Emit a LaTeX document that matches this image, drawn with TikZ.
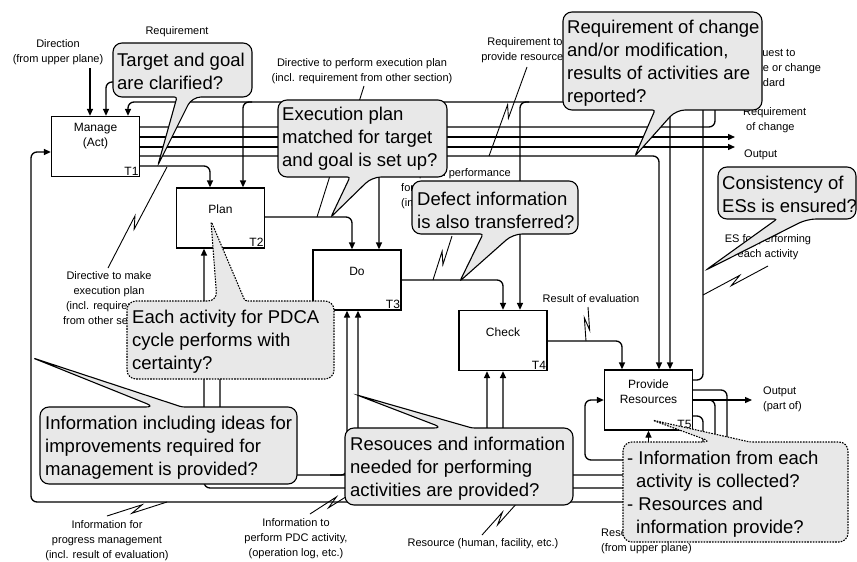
\documentclass[tikz,border=0pt]{standalone}
\usepackage{fontspec}
\setmainfont{Liberation Sans}
\usetikzlibrary{arrows.meta,calc}
\definecolor{cfill}{RGB}{232,232,232}
\tikzset{
  conn/.style={line width=1.3pt, rounded corners=6pt},
  arr/.style={conn, -{Triangle[length=7pt,width=6pt]}},
  actbox/.style={draw, line width=1.3pt, fill=white, minimum width=88pt, minimum height=60pt, inner sep=0pt},
  boxtxt/.style={font=\fontsize{12}{15}\selectfont, align=center, inner sep=0pt},
  tag/.style={font=\fontsize{12}{14}\selectfont, inner sep=1.5pt, anchor=south east},
  lbl/.style={font=\fontsize{11}{15}\selectfont, align=center, inner sep=0pt},
  lblw/.style={lbl, align=left, anchor=west},
  ldr/.style={line width=0.9pt},
  callout/.style={draw, fill=cfill, line width=1.1pt, rounded corners=9pt},
  dcallout/.style={callout, dash pattern=on 1.6pt off 1.2pt},
  ctxt/.style={font=\fontsize{18.5}{23}\selectfont, align=left, anchor=west, inner sep=0pt},
}
% leader line with a lightning mark: from #1 to #2, mark placed at fraction #3
\newcommand\squig[3]{%
  \draw[ldr] (#1) -- ($(#1)!#3!(#2)!6pt!(#2)!3pt!90:(#2)$)
    -- ($(#1)!#3!(#2)!6pt!(#1)!3pt!90:(#1)$) -- (#2);}
\begin{document}
\begin{tikzpicture}[x=1pt,y=-1pt]
\useasboundingbox (0,0) rectangle (857,562);
\fill[white] (0,0) rectangle (857,562);

% activity boxes
\node[actbox] (T1) at (95.5,146.5) {};
\node[actbox] (T2) at (220.5,218) {};
\node[actbox] (T3) at (357,280) {};
\node[actbox] (T4) at (503,340.5) {};
\node[actbox] (T5) at (648.5,400) {};
\node[boxtxt] (t1) at ($(T1.north)+(0,20.5)$) {Manage\\(Act)};
\node[boxtxt] (t2) at ($(T2.north)+(0,22)$) {Plan};
\node[boxtxt] (t3) at ($(T3.north)+(0,22)$) {Do};
\node[boxtxt] (t4) at ($(T4.north)+(0,22)$) {Check};
\node[boxtxt] (t5) at ($(T5.north)+(0,22)$) {Provide\\Resources};
\node[tag] (g1) at (T1.south east) {T1};
\node[tag] (g2) at (T2.south east) {T2};
\node[tag] (g3) at (T3.south east) {T3};
\node[tag] (g4) at (T4.south east) {T4};
\node[tag] (g5) at (T5.south east) {T5};

% controls entering the manage activity
\coordinate (dirS) at (90,68);
\coordinate (reqS) at (150,60);
\draw[arr] (dirS) -- (T1.north -| dirS);
\draw[arr] (reqS) -- (150,82) -- (106,82) -- (T1.north -| 106,0);

% engineering standards distributed to every activity
\coordinate (esTop) at (703,102);
\draw[arr] (T5.east |- 0,380) -- (703,380) -- (esTop) -- (128,102) -- (T1.north -| 128,0);
\draw[arr] (252,102) -- (243,102) -- (T2.north -| 243,0);
\draw[arr] (388,102) -- (379,102) -- (T3.north -| 379,0);
\draw[arr] (529,102) -- (520,102) -- (T4.north -| 520,0);
\draw[arr] (679,102) -- (670,102) -- (T5.north -| 670,0);

% outputs of manage
\coordinate (reqUp) at (715,88);
\coordinate (outRC) at (735,137);
\coordinate (outO) at (735,147);
\draw[arr] (T1.east |- 0,127) -- (715,127) -- (reqUp);
\draw[arr] (T1.east |- 0,137) -- (outRC);
\draw[arr] (T1.east |- 0,147) -- (outO);
\draw[arr] (T1.east |- 0,156) -- (659,156) -- (T5.north -| 659,0);
\draw[arr] (T1.east |- 0,166) -- (210,166) -- (T2.north -| 210,0);

% plan -> do -> check -> provide
\draw[arr] (T2.east |- 0,217) -- (352,217) -- (T3.north -| 352,0);
\draw[arr] (T3.east |- 0,280) -- (503,280) -- (T4.north -| 503,0);
\draw[arr] (T4.east |- 0,341) -- (622,341) -- (T5.north -| 622,0);

% outputs of provide resources
\coordinate (outP) at (752,400);
\draw[arr] (T5.east |- 0,400) -- (outP);
\draw[arr] (T5.east |- 0,390) -- (727,390) -- (727,502) -- (31,502) -- (31,152) -- (T1.west |- 0,152);
\draw[arr] (T5.east |- 0,400) -- (715,400) -- (715,488) -- (204,488) -- (T2.south -| 204,0);
\draw[arr] (T5.east |- 0,416) -- (703,416) -- (703,475) -- (220,475) -- (T2.south -| 220,0);
\draw[arr] (330,475) -- (347,475) -- (T3.south -| 347,0);
\draw[arr] (370,488) -- (358,488) -- (T3.south -| 358,0);
\draw[arr] (500,475) -- (487,475) -- (T4.south -| 487,0);
\draw[arr] (515,488) -- (503,488) -- (T4.south -| 503,0);
\draw[arr] (703,460) -- (585,460) -- (585,400) -- (T5.west |- 0,400);
\coordinate (upS) at (648.5,528);
\draw[arr] (upS) -- (T5.south);

% arrow labels
\node[lbl] (lDir) at (58,52) {Direction\\(from upper plane)};
\node[lbl] (lReq) at (177,32) {Requirement};
\node[lbl] (lDirP) at (362,71) {Directive to perform execution plan\\(incl. requirement from other section)};
\node[lbl] (lReqR) at (525,50) {Requirement to\\provide resources};
\node[lblw] (lPerf) at (401,189) {Required performance\\for each activity\\(incl. standard)};
\node[lblw] (lStd) at (742,68) {Request to\\make or change\\standard};
\node[lblw] (lRC) at (743,120) {Requirement\\\hspace*{3pt}of change};
\node[lblw] (lOut) at (744,155) {Output};
\node[lbl] (lES) at (768,247) {ES for performing\\each activity};
\node[lbl] (lRes) at (591,299) {Result of evaluation};
\node[lbl] (lDirM) at (109,299) {Directive to make\\execution plan\\(incl. requirement\\from other section)};
\node[lblw] (lOutP) at (763,399) {Output\\(part of)};
\node[lbl] (lProg) at (107,541) {Information for\\progress management\\(incl. result of evaluation)};
\node[lbl] (lPDC) at (296,539) {Information to\\perform PDC activity,\\(operation log, etc.)};
\node[lbl] (lHum) at (483,544) {Resource (human, facility, etc.)};
\node[lblw] (lUp) at (601,541) {Resource\\(from upper plane)};

% leaders from labels to their arrows
\coordinate (a1) at (108,268);  \coordinate (b1) at (167,167);
\coordinate (a2) at (364,86);   \coordinate (b2) at (317,217);
\coordinate (a3) at (527,67);   \coordinate (b3) at (489,156);
\coordinate (a4) at (452,236);  \coordinate (b4) at (433,280);
\coordinate (a5) at (588,307);  \coordinate (b5) at (586,341);
\coordinate (a6) at (768,266);  \coordinate (b6) at (703,295);
\coordinate (a7) at (107,516);  \coordinate (b7) at (167,502);
\coordinate (a8) at (310,514);  \coordinate (b8) at (360,488);
\coordinate (a9) at (482,535);  \coordinate (b9) at (518,502);
\squig{a1}{b1}{0.45}
\squig{a2}{b2}{0.5}
\squig{a3}{b3}{0.5}
\squig{a4}{b4}{0.5}
\squig{a5}{b5}{0.5}
\squig{a6}{b6}{0.5}
\squig{a7}{b7}{0.5}
\squig{a8}{b8}{0.45}
\squig{a9}{b9}{0.5}

% check-point callouts
\draw[callout] (177,97) -- (113,97) -- (113,43) -- (252,43) -- (252,97) -- (192,97) [rounded corners=2.5pt] -- (158,165) -- cycle;
\node[ctxt] (q1) at (117,71) {Target and goal\\are clarified?};

\draw[callout] (350,177) -- (278,177) -- (278,100) -- (447,100) -- (447,177) -- (372,177) [rounded corners=2.5pt] -- (331,217) -- cycle;
\node[ctxt] (q2) at (282,139) {Execution plan\\matched for target\\and goal is set up?};

\draw[callout] (655,110) -- (563,110) -- (563,12) -- (762,12) -- (762,110) -- (676,110) [rounded corners=2.5pt] -- (635,156) -- cycle;
\node[ctxt] (q3) at (567,63) {Requirement of change\\and/or modification,\\results of activities are\\reported?};

\draw[callout] (483,234) -- (412,234) -- (412,181) -- (578,181) -- (578,234) -- (513,234) [rounded corners=2.5pt] -- (460,281) -- cycle;
\node[ctxt] (q4) at (417,210) {Defect information\\is also transferred?};

\draw[callout] (777,219) -- (718,219) -- (718,167) -- (856,167) -- (856,219) -- (807,219) [rounded corners=2.5pt] -- (706,270) -- cycle;
\node[ctxt] (q5) at (722,194) {Consistency of\\ESs is ensured?};

\draw[dcallout] (245,301) -- (334,301) -- (334,379) -- (127,379) -- (127,301) -- (217,301) [rounded corners=2.5pt] -- (211,221) -- cycle;
\node[ctxt] (q6) at (132,342) {Each activity for PDCA\\cycle performs with\\certainty?};

\draw[callout] (182,407) -- (297,407) -- (297,484) -- (40,484) -- (40,407) -- (155,407) [rounded corners=2.5pt] -- (33,358) -- cycle;
\node[ctxt] (q7) at (45,448) {Information including ideas for\\improvements required for\\management is provided?};

\draw[callout] (472,428) -- (573,428) -- (573,505) -- (345,505) -- (345,428) -- (443,428) [rounded corners=2.5pt] -- (357,395) -- cycle;
\node[ctxt] (q8) at (350,469) {Resouces and information\\needed for performing\\activities are provided?};

\draw[dcallout] (750,442) -- (848,442) -- (848,542) -- (623,542) -- (623,442) -- (712,442) [rounded corners=2.5pt] -- (652,420) -- cycle;
\node[ctxt] (q9) at (627,494) {- Information from each\\\hspace*{9pt}activity is collected?\\- Resources and\\\hspace*{9pt}information provide?};
\end{tikzpicture}
\end{document}
